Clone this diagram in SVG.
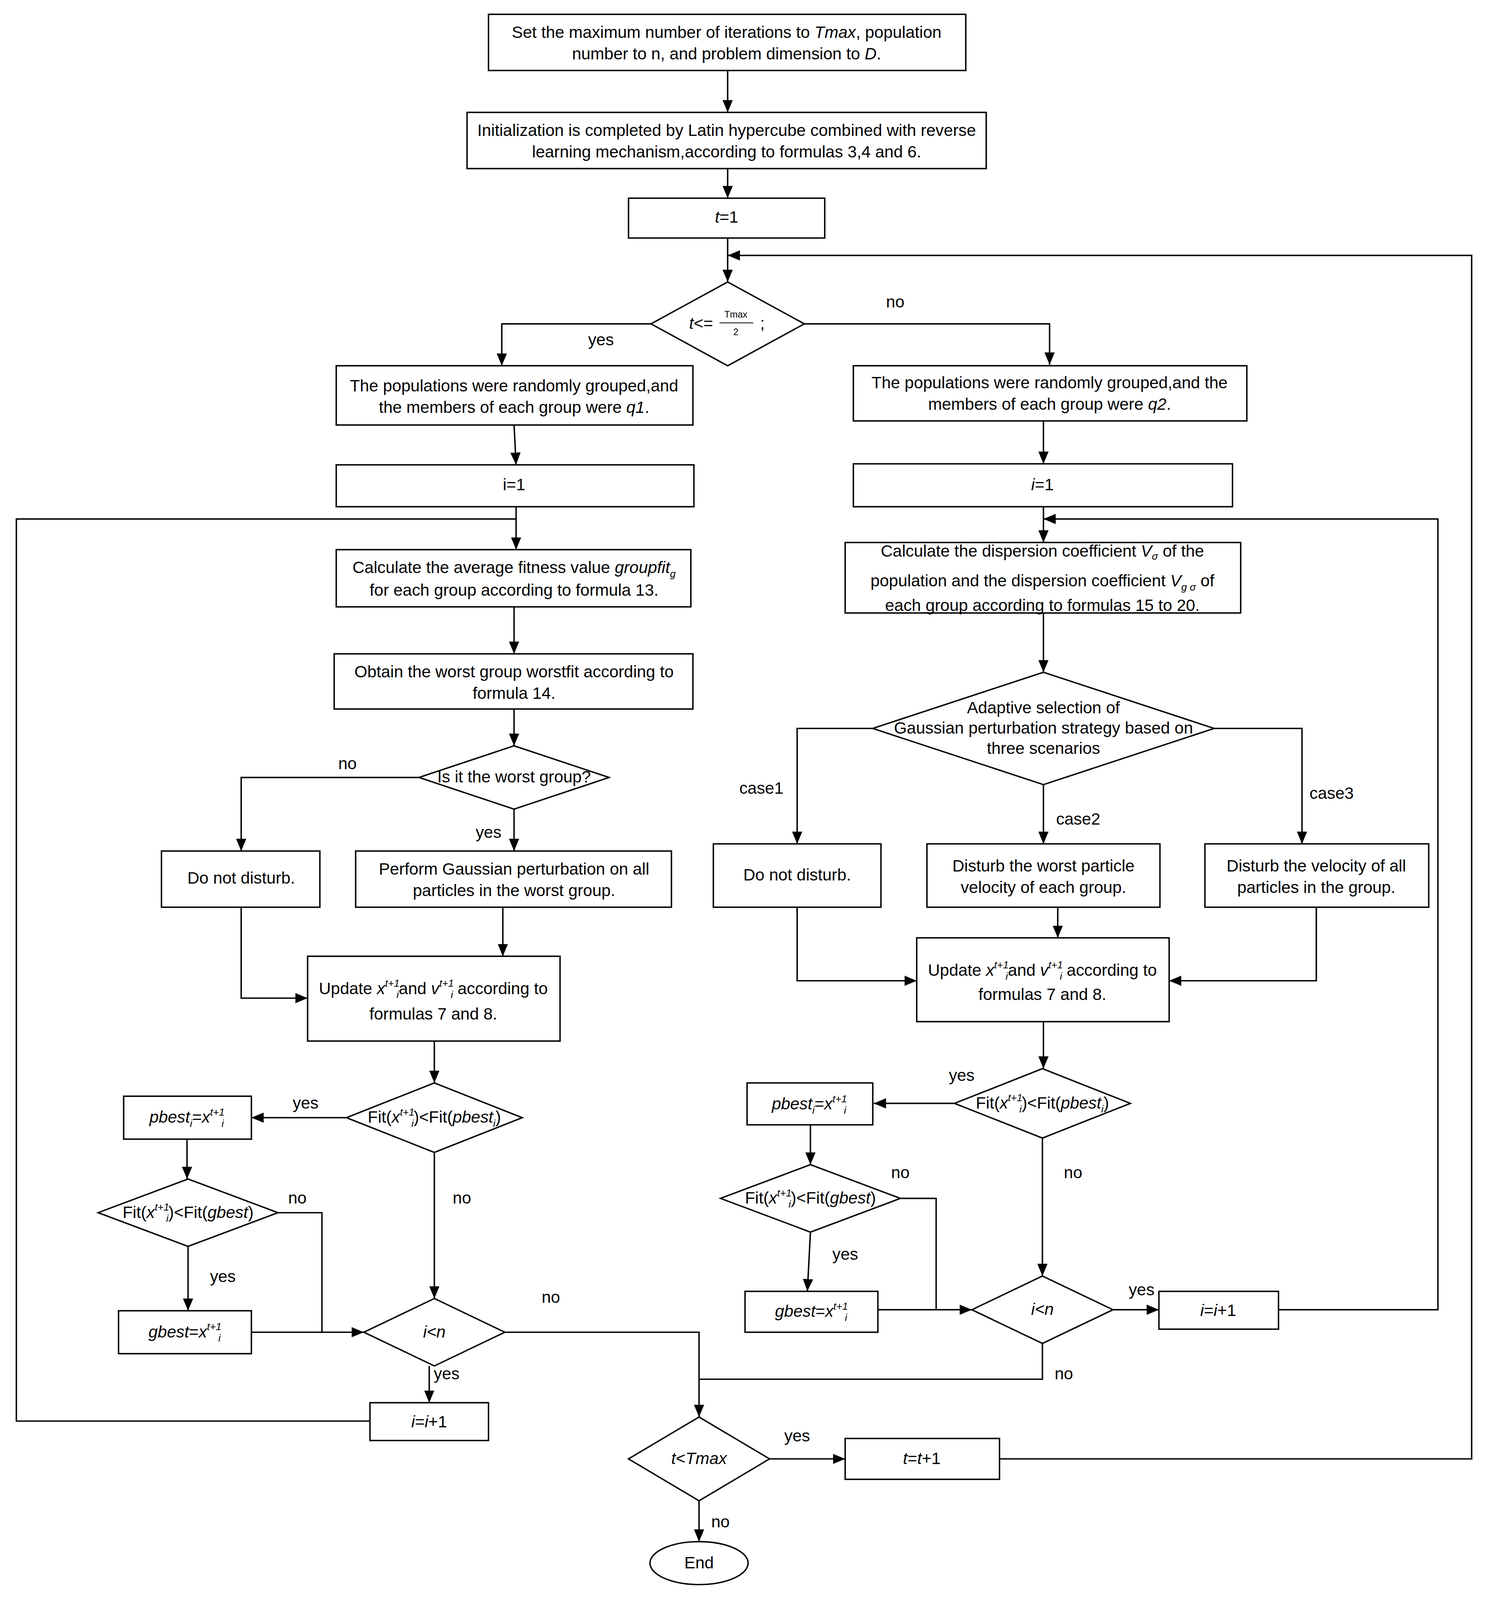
<svg xmlns="http://www.w3.org/2000/svg" width="3808" height="4102" viewBox="0 0 3808 4102">
<defs>
<marker id="a" markerUnits="userSpaceOnUse" markerWidth="12" markerHeight="12" viewBox="0 0 12 12" refX="12" refY="6" orient="auto"><path d="M0,1 L12,6 L0,11 Z" fill="#000"/></marker>
<style>
.b{fill:#fff;stroke:#000;stroke-width:1.4}
.c{fill:none;stroke:#000;stroke-width:1.4;marker-end:url(#a)}
.l{fill:none;stroke:#000;stroke-width:1.4}
text{font-family:"Liberation Sans",Arial,sans-serif;font-size:16.2px;fill:#000;text-anchor:middle}
.i{font-style:italic}
.s{font-size:10px;font-style:italic}
</style>
</defs>
<rect width="3808" height="4102" fill="#fff"/>
<g transform="scale(2.6154)">
<g id="connectors">
<path class="c" d="M712,69 V110"/>
<path class="c" d="M712,165 V194"/>
<path class="c" d="M712,233 V276"/>
<path class="c" d="M978,1428 H1440 V250 H712"/>
<path class="c" d="M637,317 H491 V358"/>
<path class="c" d="M787,317 H1027 V357"/>
<path class="c" d="M503,416 L505,455"/>
<path class="c" d="M1021,412 V454"/>
<path class="c" d="M505,496 V538"/>
<path class="l" d="M362,1391 H16 V508 H505"/>
<path class="c" d="M503,594 V640"/>
<path class="c" d="M503,694 V730"/>
<path class="c" d="M410,761 H236 V833"/>
<path class="c" d="M503,792 V833"/>
<path class="c" d="M492,888 V936"/>
<path class="c" d="M236,888 V977 H301"/>
<path class="c" d="M425,1019 V1060"/>
<path class="c" d="M339,1094 H246"/>
<path class="c" d="M425,1128 V1271"/>
<path class="c" d="M183,1115 V1154"/>
<path class="l" d="M272,1187 H315 V1304"/>
<path class="c" d="M184,1220 V1283"/>
<path class="c" d="M246,1304 H356"/>
<path class="c" d="M494,1304 H684 V1387"/>
<path class="c" d="M420,1337 V1373"/>
<path class="c" d="M753,1428 H827"/>
<path class="c" d="M684,1469 V1509"/>
<path class="c" d="M1021,496 V531"/>
<path class="c" d="M1251,1282 H1407 V508 H1021"/>
<path class="c" d="M1021,600 V658"/>
<path class="c" d="M854,713 H780 V826"/>
<path class="c" d="M1021,768 V826"/>
<path class="c" d="M1188,713 H1274 V826"/>
<path class="c" d="M1035,888 V918"/>
<path class="c" d="M780,888 V960 H897"/>
<path class="c" d="M1288,888 V960 H1144"/>
<path class="c" d="M1021,1000 V1046"/>
<path class="c" d="M934,1080 H855"/>
<path class="c" d="M1020,1114 V1249"/>
<path class="c" d="M793,1101 V1140"/>
<path class="c" d="M881,1173 H916 V1282 H951"/>
<path class="c" d="M793,1206 L790,1264"/>
<path class="l" d="M859,1282 H916"/>
<path class="c" d="M1089,1282 H1134"/>
<path class="l" d="M1020,1315 V1350 H684"/>
<text x="588" y="338">yes</text><text x="876" y="301">no</text>
<text x="340" y="753">no</text><text x="478" y="820">yes</text>
<text x="299" y="1085">yes</text><text x="452" y="1178">no</text>
<text x="291" y="1178">no</text><text x="218" y="1255">yes</text>
<text x="539" y="1275">no</text><text x="437" y="1350">yes</text>
<text x="780" y="1411">yes</text><text x="705" y="1495">no</text>
<text x="745" y="777">case1</text><text x="1055" y="807">case2</text><text x="1303" y="782">case3</text>
<text x="941" y="1058">yes</text><text x="1050" y="1153">no</text>
<text x="881" y="1153">no</text><text x="827" y="1233">yes</text>
<text x="1117" y="1268">yes</text><text x="1041" y="1350">no</text>
</g>
<g id="n1"><rect class="b" x="478" y="14" width="467" height="55"/><text x="711" y="37">Set the maximum number of iterations to <tspan class="i">Tmax</tspan>, population</text><text x="711" y="58">number to n, and problem dimension to <tspan class="i">D</tspan>.</text></g>
<g id="n2"><rect class="b" x="457" y="110" width="508" height="55"/><text x="711" y="133">Initialization is completed by Latin hypercube combined with reverse</text><text x="711" y="154">learning mechanism,according to formulas 3,4 and 6.</text></g>
<g id="n3"><rect class="b" x="615" y="194" width="192" height="39"/><text x="711" y="218"><tspan class="i">t</tspan>=1</text></g>
<g id="n4"><path class="b" d="M712,276 L787,317 L712,358 L637,317 Z"/><text x="686" y="322"><tspan class="i">t</tspan>&lt;=</text><text x="720" y="311" style="font-size:9px">Tmax</text><path class="l" d="M704,316 H737" style="stroke-width:0.7"/><text x="720" y="328" style="font-size:9px">2</text><text x="746" y="322">;</text></g>
<g id="n5"><rect class="b" x="329" y="358" width="349" height="58"/><text x="503" y="383">The populations were randomly grouped,and</text><text x="503" y="404">the members of each group were <tspan class="i">q1</tspan>.</text></g>
<g id="n6"><rect class="b" x="835" y="358" width="385" height="54"/><text x="1027" y="380">The populations were randomly grouped,and the</text><text x="1027" y="401">members of each group were <tspan class="i">q2</tspan>.</text></g>
<g id="n7"><rect class="b" x="329" y="455" width="350" height="41"/><text x="503" y="480">i=1</text></g>
<g id="n8"><rect class="b" x="835" y="454" width="371" height="42"/><text x="1020" y="480"><tspan class="i">i</tspan>=1</text></g>
<g id="n9"><rect class="b" x="329" y="538" width="347" height="56"/><text x="503" y="561">Calculate the average fitness value <tspan class="i">groupfit</tspan><tspan class="s" dy="4">g</tspan></text><text x="503" y="583">for each group according to formula 13.</text></g>
<g id="n10"><rect class="b" x="327" y="640" width="351" height="54"/><text x="503" y="663">Obtain the worst group worstfit according to</text><text x="503" y="684">formula 14.</text></g>
<g id="n11"><path class="b" d="M503,730 L596,761 L503,792 L410,761 Z"/><text x="503" y="766">Is it the worst group?</text></g>
<g id="n12"><rect class="b" x="158" y="833" width="155" height="55"/><text x="236" y="865">Do not disturb.</text></g>
<g id="n13"><rect class="b" x="348" y="833" width="309" height="55"/><text x="503" y="856">Perform Gaussian perturbation on all</text><text x="503" y="877">particles in the worst group.</text></g>
<g id="n14"><rect class="b" x="301" y="936" width="247" height="83"/><text x="424" y="973">Update <tspan class="i">x</tspan><tspan class="s" dy="-7">t+1</tspan><tspan class="s" dx="-3" dy="11">i</tspan><tspan dy="-4">and </tspan><tspan class="i">v</tspan><tspan class="s" dy="-7">t+1</tspan><tspan class="s" dx="-3" dy="11">i</tspan><tspan dy="-4"> according to</tspan></text><text x="424" y="998">formulas 7 and 8.</text></g>
<g id="n15"><path class="b" d="M425,1060 L511,1094 L425,1128 L339,1094 Z"/><text x="425" y="1099">Fit(<tspan class="i">x</tspan><tspan class="s" dy="-7">t+1</tspan><tspan class="s" dx="-3" dy="11">i</tspan><tspan dy="-4">)&lt;Fit(</tspan><tspan class="i">pbest</tspan><tspan class="s" dy="4">i</tspan><tspan dy="-4">)</tspan></text></g>
<g id="n16"><rect class="b" x="121" y="1073" width="125" height="42"/><text x="183" y="1099"><tspan class="i">pbest</tspan><tspan class="s" dy="4">i</tspan><tspan dy="-4">=</tspan><tspan class="i">x</tspan><tspan class="s" dy="-7">t+1</tspan><tspan class="s" dx="-3" dy="11">i</tspan></text></g>
<g id="n17"><path class="b" d="M184,1154 L272,1187 L184,1220 L96,1187 Z"/><text x="184" y="1192">Fit(<tspan class="i">x</tspan><tspan class="s" dy="-7">t+1</tspan><tspan class="s" dx="-3" dy="11">i</tspan><tspan dy="-4">)&lt;Fit(</tspan><tspan class="i">gbest</tspan>)</text></g>
<g id="n18"><rect class="b" x="116" y="1283" width="130" height="42"/><text x="181" y="1309"><tspan class="i">gbest</tspan>=<tspan class="i">x</tspan><tspan class="s" dy="-7">t+1</tspan><tspan class="s" dx="-3" dy="11">i</tspan></text></g>
<g id="n19"><path class="b" d="M425,1271 L494,1304 L425,1337 L356,1304 Z"/><text x="425" y="1309" class="i">i&lt;n</text></g>
<g id="n20"><rect class="b" x="362" y="1373" width="116" height="37"/><text x="420" y="1397"><tspan class="i">i</tspan>=<tspan class="i">i</tspan>+1</text></g>
<g id="n21"><path class="b" d="M684,1387 L753,1428 L684,1469 L615,1428 Z"/><text x="684" y="1433"><tspan class="i">t</tspan>&lt;<tspan class="i">Tmax</tspan></text></g>
<g id="n22"><rect class="b" x="827" y="1408" width="151" height="40"/><text x="902" y="1433"><tspan class="i">t</tspan>=<tspan class="i">t</tspan>+1</text></g>
<g id="n23"><ellipse class="b" cx="684" cy="1530" rx="48" ry="21"/><text x="684" y="1535">End</text></g>
<g id="n24"><rect class="b" x="827" y="531" width="387" height="69"/><text x="1020" y="545">Calculate the dispersion coefficient <tspan class="i">V</tspan><tspan class="s" dy="3">σ</tspan><tspan dy="-3"> of the</tspan></text><text x="1020" y="574">population and the dispersion coefficient <tspan class="i">V</tspan><tspan class="s" dy="4">g σ</tspan><tspan dy="-4"> of</tspan></text><text x="1020" y="598">each group according to formulas 15 to 20.</text></g>
<g id="n25"><path class="b" d="M1021,658 L1188,713 L1021,768 L854,713 Z"/><text x="1021" y="698">Adaptive selection of</text><text x="1021" y="718">Gaussian perturbation strategy based on</text><text x="1021" y="738">three scenarios</text></g>
<g id="n26"><rect class="b" x="698" y="826" width="164" height="62"/><text x="780" y="862">Do not disturb.</text></g>
<g id="n27"><rect class="b" x="907" y="826" width="228" height="62"/><text x="1021" y="853">Disturb the worst particle</text><text x="1021" y="874">velocity of each group.</text></g>
<g id="n28"><rect class="b" x="1179" y="826" width="219" height="62"/><text x="1288" y="853">Disturb the velocity of all</text><text x="1288" y="874">particles in the group.</text></g>
<g id="n29"><rect class="b" x="897" y="918" width="247" height="82"/><text x="1020" y="955">Update <tspan class="i">x</tspan><tspan class="s" dy="-7">t+1</tspan><tspan class="s" dx="-3" dy="11">i</tspan><tspan dy="-4">and </tspan><tspan class="i">v</tspan><tspan class="s" dy="-7">t+1</tspan><tspan class="s" dx="-3" dy="11">i</tspan><tspan dy="-4"> according to</tspan></text><text x="1020" y="979">formulas 7 and 8.</text></g>
<g id="n30"><path class="b" d="M1020,1046 L1106,1080 L1020,1114 L934,1080 Z"/><text x="1020" y="1085">Fit(<tspan class="i">x</tspan><tspan class="s" dy="-7">t+1</tspan><tspan class="s" dx="-3" dy="11">i</tspan><tspan dy="-4">)&lt;Fit(</tspan><tspan class="i">pbest</tspan><tspan class="s" dy="4">i</tspan><tspan dy="-4">)</tspan></text></g>
<g id="n31"><rect class="b" x="731" y="1060" width="123" height="41"/><text x="792" y="1086"><tspan class="i">pbest</tspan><tspan class="s" dy="4">i</tspan><tspan dy="-4">=</tspan><tspan class="i">x</tspan><tspan class="s" dy="-7">t+1</tspan><tspan class="s" dx="-3" dy="11">i</tspan></text></g>
<g id="n32"><path class="b" d="M793,1140 L881,1173 L793,1206 L705,1173 Z"/><text x="793" y="1178">Fit(<tspan class="i">x</tspan><tspan class="s" dy="-7">t+1</tspan><tspan class="s" dx="-3" dy="11">i</tspan><tspan dy="-4">)&lt;Fit(</tspan><tspan class="i">gbest</tspan>)</text></g>
<g id="n33"><rect class="b" x="729" y="1264" width="130" height="40"/><text x="794" y="1289"><tspan class="i">gbest</tspan>=<tspan class="i">x</tspan><tspan class="s" dy="-7">t+1</tspan><tspan class="s" dx="-3" dy="11">i</tspan></text></g>
<g id="n34"><path class="b" d="M1020,1249 L1089,1282 L1020,1315 L951,1282 Z"/><text x="1020" y="1287" class="i">i&lt;n</text></g>
<g id="n35"><rect class="b" x="1134" y="1264" width="117" height="37"/><text x="1192" y="1288"><tspan class="i">i</tspan>=<tspan class="i">i</tspan>+1</text></g>
</g>
</svg>
